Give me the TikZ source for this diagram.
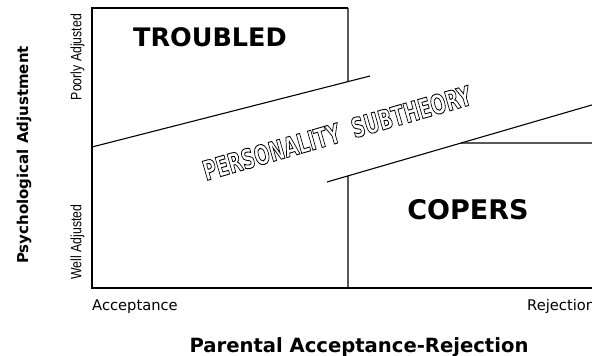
\documentclass[tikz,border=0pt]{standalone}
\usepackage{fontspec}
\setmainfont{DejaVu Sans}
\newfontfamily\narrowfont{Liberation Sans}
\newfontfamily\condfont{DejaVu Sans Condensed}
\usepackage{xcolor}
\usepackage{graphicx}
\usetikzlibrary{positioning, calc}

% hollow letters: stroke only (text render mode 1)
\newcommand{\hollow}[1]{\special{pdf:literal direct 1 Tr 0.9 w}#1\special{pdf:literal direct 0 Tr}}

\tikzset{
  region/.style={font=\bfseries\fontsize{25.5}{28}\selectfont, inner sep=0pt},
  axistitle/.style={font=\bfseries\fontsize{15}{17}\selectfont, inner sep=0pt},
  endlabel/.style={font=\fontsize{14.7}{16}\selectfont, inner sep=0pt},
  sidelabel/.style={font=\narrowfont\fontsize{15}{17}\selectfont, inner sep=0pt, rotate=90},
  border/.style={line width=1.1pt, black}
}

\begin{document}
\begin{tikzpicture}[x=1pt, y=1pt]

      \useasboundingbox (0,0) rectangle (592,356);
      \clip (0,0) rectangle (592,356);

      % frame corners
      \coordinate (tl) at (92,348);
      \coordinate (tm) at (348,348);
      \coordinate (bl) at (92,68);
      \coordinate (bm) at (348,68);
      \coordinate (br) at (620,68);

      % the two sloping bounds
      \coordinate (ua) at (92,209);
      \coordinate (ub) at (370,280);
      \coordinate (la) at (327,174);
      \coordinate (lb) at (620,259.2);
      \coordinate (rr) at (620,213);

      \coordinate (uc) at (intersection of ua--ub and tm--bm);
      \coordinate (lc) at (intersection of la--lb and tm--bm);
      \coordinate (ld) at (intersection of la--lb and {(0,213)}--rr);

      \draw[border] (tm) -- (tl) -- (bl) -- (br);
      \draw[border] (tm) -- (uc);
      \draw[border] (ua) -- (ub);
      \draw[border] (la) -- (lb);
      \draw[border] (lc) -- (bm);
      \draw[border] (ld) -- (rr);

      % regions
      \node[region] (troubled) at (210,319) {TROUBLED};
      \node[region, font=\bfseries\fontsize{27}{30}\selectfont] (copers) at (468,146) {COPERS};

      \node[rotate=16, inner sep=0pt] (subtheory) at (337,223)
        {\condfont\bfseries\fontsize{27}{30}\selectfont
         \scalebox{0.75}[1]{\hollow{PERSONALITY\ \ SUBTHEORY}}};

      % axis labels
      \node[sidelabel] (poorly) at (77.5,299) {\scalebox{0.82}[1]{Poorly Adjusted}};
      \node[sidelabel] (well) at (77.5,114) {\scalebox{0.82}[1]{Well Adjusted}};
      \node[axistitle, rotate=90] (yaxis) at (24,201) {Psychological Adjustment};

      \node[endlabel, anchor=base west] (accept) at (92,45.5) {Acceptance};
      \node[endlabel, anchor=base west] (reject) at (527,45.5) {Rejection};
      \node[axistitle, font=\bfseries\fontsize{19.6}{22}\selectfont, anchor=base] (xaxis) at (359,3) {Parental Acceptance-Rejection};

    \end{tikzpicture}
\end{document}
